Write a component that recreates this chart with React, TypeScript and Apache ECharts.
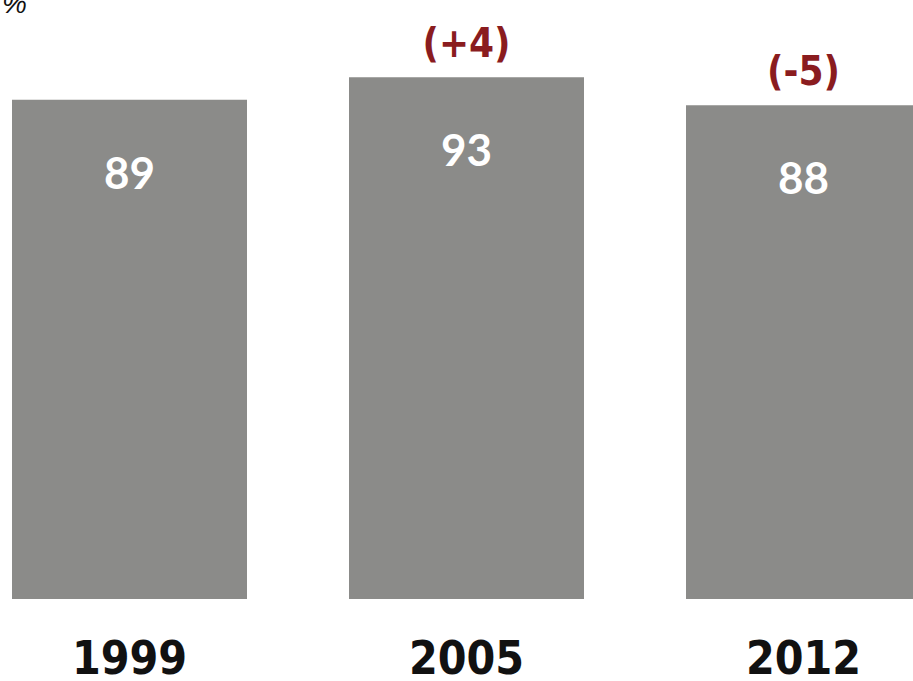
import React, { useEffect, useRef } from "react";
import * as echarts from "echarts";

const years = ["1999", "2005", "2012"];
const shares = [89, 93, 88];
const changes = ["", "(+4)", "(-5)"];

export default function App() {
  const ref = useRef<HTMLDivElement>(null);
  useEffect(() => {
    if (!ref.current) return;
    const chart = echarts.init(ref.current, null, { renderer: "svg" });
    chart.setOption({
      animation: false,
      backgroundColor: "#ffffff",
      grid: { left: 0, right: 0, top: 38, bottom: 80, containLabel: false },
      xAxis: {
        type: "category",
        data: years,
        axisLine: { show: false },
        axisTick: { show: false },
        axisLabel: {
          margin: 39,
          fontSize: 46,
          lineHeight: 40,
          fontWeight: "bold",
          color: "#111111",
          fontFamily: "'DejaVu Sans Condensed', 'DejaVu Sans', sans-serif",
        },
      },
      yAxis: {
        type: "value",
        min: 0,
        max: 100,
        show: false,
        splitLine: { show: false },
      },
      graphic: [
        {
          type: "text",
          left: 41,
          top: -11,
          style: { text: "%", fontSize: 28, fontStyle: "italic", fill: "#111", fontFamily: "'Liberation Sans', sans-serif" },
        },
      ],
      series: [
        {
          type: "bar",
          data: shares,
          barWidth: 235,
          itemStyle: { color: "#8b8b89" },
          label: {
            show: true,
            position: "insideTop",
            distance: 50,
            fontSize: 44,
            fontWeight: "bold",
            color: "#ffffff",
            fontFamily: "Lato, 'Open Sans', sans-serif",
          },
        },
        {
          type: "bar",
          data: shares,
          barWidth: 235,
          barGap: "-100%",
          itemStyle: { color: "transparent" },
          silent: true,
          label: {
            show: true,
            position: "top",
            distance: 14,
            fontSize: 40,
            fontWeight: "bold",
            color: "#8a1c1f",
            fontFamily: "'DejaVu Sans Condensed', 'DejaVu Sans', sans-serif",
            formatter: (p: any) => changes[p.dataIndex],
          },
        },
      ],
    });
    return () => chart.dispose();
  }, []);
  return (
    <div style={{ position: "fixed", left: 0, top: 0, width: 913, height: 681, overflow: "hidden", background: "#fff" }}>
      <div
        ref={ref}
        style={{ position: "absolute", left: -39, top: 0, width: 1011, height: 681 }}
      />
    </div>
  );
}
